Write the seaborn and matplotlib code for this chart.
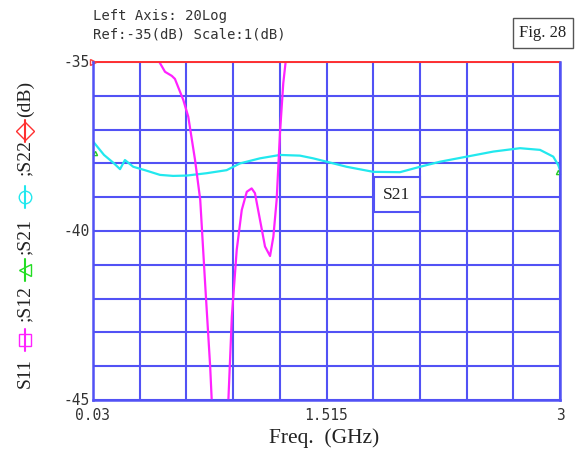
import numpy as np
import pandas as pd
import matplotlib
matplotlib.use("Agg")
import matplotlib.pyplot as plt
import seaborn as sns

# ---- data ----
s21_freq = [0.032, 0.10, 0.159, 0.202, 0.233, 0.286, 0.36, 0.456, 0.54, 0.626, 0.753, 0.880,
            0.965, 1.092, 1.219, 1.346, 1.43, 1.516, 1.643, 1.813, 1.982, 2.110, 2.237, 2.407,
            2.576, 2.746, 2.873, 2.957, 2.989, 3.0]
s21_db = [-37.36, -37.75, -37.98, -38.17, -37.9, -38.1, -38.2, -38.34, -38.37, -38.36, -38.29, -38.2,
          -38.0, -37.85, -37.75, -37.77, -37.85, -37.95, -38.1, -38.25, -38.26, -38.1, -37.95, -37.8,
          -37.65, -37.55, -37.6, -37.8, -38.05, -38.2]

s11_freq = [0.42, 0.452, 0.488, 0.531, 0.551, 0.604, 0.636, 0.679, 0.712, 0.743, 0.775, 0.785,
            0.84, 0.891, 0.913, 0.944, 0.976, 1.008, 1.039, 1.060, 1.092, 1.124, 1.156, 1.177,
            1.198, 1.219, 1.240, 1.255, 1.27]
s11_db = [-34.5, -35.0, -35.29, -35.41, -35.5, -36.12, -36.62, -37.9, -39.08, -41.55, -44.0, -45.0,
          -46.5, -45.0, -42.53, -40.56, -39.38, -38.84, -38.74, -38.88, -39.67, -40.46, -40.74, -40.17,
          -39.08, -37.11, -35.63, -35.0, -34.5]

s22_freq = [0.03, 3.0]
s22_db = [-35.0, -35.0]

x_ticks = [0.03, 1.515, 3]
x_tick_labels = ["0.03", "1.515", "3"]
y_ticks = [-35, -40, -45]
y_tick_labels = ["-35", "-40", "-45"]

df21 = pd.DataFrame({"freq": s21_freq, "db": s21_db})
df11 = pd.DataFrame({"freq": s11_freq, "db": s11_db})
df22 = pd.DataFrame({"freq": s22_freq, "db": s22_db})

sns.set_style("white")
plt.rcParams["font.family"] = ["DejaVu Sans Mono", "DejaVu Sans"]

W, H = 579, 450
fig = plt.figure(figsize=(W / 100, H / 100), dpi=100)
fig.patch.set_facecolor("white")
L, R, T, B = 93, 560, 62, 400
ax = fig.add_axes([L / W, 1 - B / H, (R - L) / W, (B - T) / H])

xmin, xmax = 0.03, 3.0
ymin, ymax = -45, -35
ax.set_xlim(xmin, xmax)
ax.set_ylim(ymin, ymax)

grid_col = "#5252f5"
ax.set_xticks(np.linspace(xmin, xmax, 11))
ax.set_yticks(np.linspace(ymin, ymax, 11))
ax.set_xticklabels([])
ax.set_yticklabels([])
ax.tick_params(length=0)
ax.grid(True, color=grid_col, linewidth=1.5)
for s in ["left", "bottom", "right"]:
    ax.spines[s].set_color(grid_col)
    ax.spines[s].set_linewidth(1.8)
ax.spines["top"].set_visible(False)

sns.lineplot(data=df21, x="freq", y="db", ax=ax, color="#22e8ee", linewidth=1.6,
             sort=False, estimator=None)
sns.lineplot(data=df11, x="freq", y="db", ax=ax, color="#ff22ff", linewidth=1.6,
             sort=False, estimator=None)
sns.lineplot(data=df22, x="freq", y="db", ax=ax, color="#ff3030", linewidth=1.4,
             sort=False, estimator=None, clip_on=False)
ax.set_xlabel("")
ax.set_ylabel("")

# small S12 marks at ends (green)
ax.plot([0.04], [-37.7], marker="^", ms=3, color="#22cc22", mfc="none", clip_on=False)
ax.plot([2.99], [-38.25], marker="^", ms=3, color="#22cc22", mfc="none", clip_on=False)
ax.plot([0.03], [-35.0], marker=">", ms=4, color="#ff4040", mfc="none", clip_on=False)

# tick labels as real text
for v, t in zip(x_ticks, x_tick_labels):
    ax.text(v, ymin - 0.25, t, ha="center", va="top", fontsize=10.5, color="#333333",
            family="DejaVu Sans Mono")
for v, t in zip(y_ticks, y_tick_labels):
    ax.text(xmin - 0.02, v, t, ha="right", va="center", fontsize=10.5, color="#333333",
            family="DejaVu Sans Mono")

# axis title
fig.text(324 / W, 1 - 438 / H, "Freq.  (GHz)", ha="center", va="center", fontsize=15.5,
         family="Liberation Serif", color="#222222")

# header
fig.text(93 / W, 1 - 16 / H, "Left Axis: 20Log", ha="left", va="center", fontsize=10,
         family="DejaVu Sans Mono", color="#333333")
fig.text(93 / W, 1 - 34 / H, "Ref:-35(dB) Scale:1(dB)", ha="left", va="center", fontsize=10,
         family="DejaVu Sans Mono", color="#333333")

# Fig. 28 box
fig.text(543 / W, 1 - 33 / H, "Fig. 28", ha="center", va="center", fontsize=12,
         family="Liberation Serif", color="#222222",
         bbox=dict(boxstyle="square,pad=0.4", fc="white", ec="#555555", lw=1.0))

# S21 label box
ax.text(1.963, -38.93, "S21", ha="center", va="center", fontsize=12.5,
        family="Liberation Serif", color="#222222",
        bbox=dict(boxstyle="square,pad=0.55", fc="white", ec=grid_col, lw=1.5))

# y-axis label: pieces with coloured symbols
xl = 25 / W
pieces = [
    (373, "S11", "#222222", "text"),
    (340, "s", "#ff22ff", "sym"),
    (304, ";S12", "#222222", "text"),
    (270, "<", "#22dd22", "sym"),
    (237, ";S21", "#222222", "text"),
    (197, "o", "#22e8ee", "sym"),
    (158, ";S22", "#222222", "text"),
    (131, "D", "#ff3030", "sym"),
    (99, "(dB)", "#222222", "text"),
]
for ypx, s, col, kind in pieces:
    yf = 1 - ypx / H
    if kind == "text":
        fig.text(xl, yf, s, rotation=90, ha="center", va="center", fontsize=14,
                 family="Liberation Serif", color=col)
    else:
        fig.lines.append(matplotlib.lines.Line2D([xl, xl], [yf - 11 / H, yf + 11 / H],
                                                 transform=fig.transFigure, color=col, lw=1.5))
        fig.lines.append(matplotlib.lines.Line2D([xl], [yf], marker=s, ms=9,
                                                 mfc="none", mec=col, mew=1.0,
                                                 transform=fig.transFigure, linestyle="none"))

fig.savefig("out.png", dpi=100, facecolor="white")
